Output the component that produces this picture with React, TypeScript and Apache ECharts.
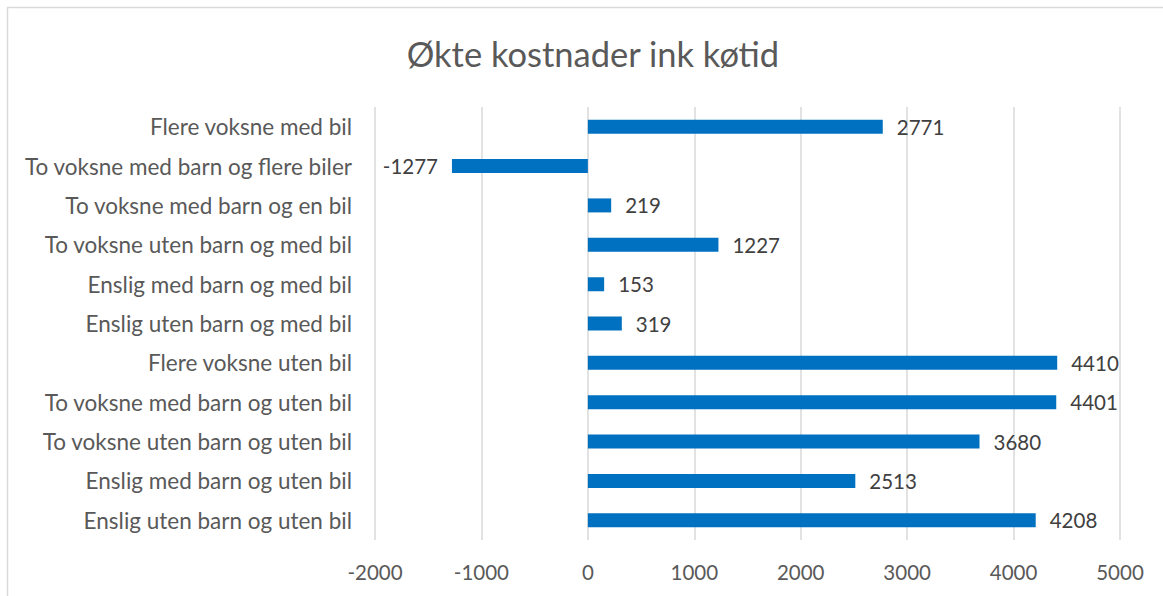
import React, { useEffect, useRef } from "react";
import * as echarts from "echarts";

const titleText = "Økte kostnader ink køtid";
const categories = [
  "Flere voksne med bil",
  "To voksne med barn og flere biler",
  "To voksne med barn og en bil",
  "To voksne uten barn og med bil",
  "Enslig med barn og med bil",
  "Enslig uten barn og med bil",
  "Flere voksne uten bil",
  "To voksne med barn og uten bil",
  "To voksne uten barn og uten bil",
  "Enslig med barn og uten bil",
  "Enslig uten barn og uten bil",
];
const values = [2771, -1277, 219, 1227, 153, 319, 4410, 4401, 3680, 2513, 4208];
const axisMin = -2000;
const axisMax = 5000;
const axisStep = 1000;

const FONT = "Lato, 'Open Sans', sans-serif";
const TEXT = "#595959";

export default function App() {
  const ref = useRef<HTMLDivElement>(null);
  useEffect(() => {
    if (!ref.current) return;
    const chart = echarts.init(ref.current, undefined, { renderer: "svg" });
    chart.setOption({
      animation: false,
      backgroundColor: "#ffffff",
      title: {
        text: titleText,
        left: 588,
        textAlign: "center",
        top: 31,
        textStyle: { fontFamily: FONT, fontSize: 34.5, fontWeight: "normal", color: TEXT },
      },
      graphic: [
        {
          type: "rect",
          shape: { x: 7.5, y: 7.5, width: 1200, height: 700 },
          style: { fill: "none", stroke: "#d9d9d9", lineWidth: 1.5 },
          silent: true,
          z: -1,
        },
      ],
      grid: { left: 375, right: 43, top: 107, bottom: 56, containLabel: false },
      xAxis: {
        type: "value",
        min: axisMin,
        max: axisMax,
        interval: axisStep,
        axisLine: { show: false },
        axisTick: { show: false },
        splitLine: { show: true, lineStyle: { color: "#d9d9d9", width: 1.5 } },
        axisLabel: {
          fontFamily: FONT,
          fontSize: 20.5,
          color: TEXT,
          margin: 21,
          formatter: (v: number) => String(v),
        },
      },
      yAxis: {
        type: "category",
        data: categories,
        inverse: true,
        axisLine: { show: false },
        axisTick: { show: false },
        axisLabel: { fontFamily: FONT, fontSize: 22.5, color: TEXT, margin: 23 },
      },
      series: [
        {
          type: "bar",
          barWidth: 14,
          itemStyle: { color: "#0070C0" },
          data: values.map((v) => ({
            value: v,
            label: { position: v < 0 ? "left" : "right" },
          })),
          label: {
            show: true,
            distance: 14,
            fontFamily: FONT,
            fontSize: 20.5,
            color: "#404040",
          },
        },
      ],
    });
    return () => chart.dispose();
  }, []);
  return (
    <div
      ref={ref}
      style={{ position: "fixed", left: 0, top: 0, width: 1163, height: 596 }}
    />
  );
}
